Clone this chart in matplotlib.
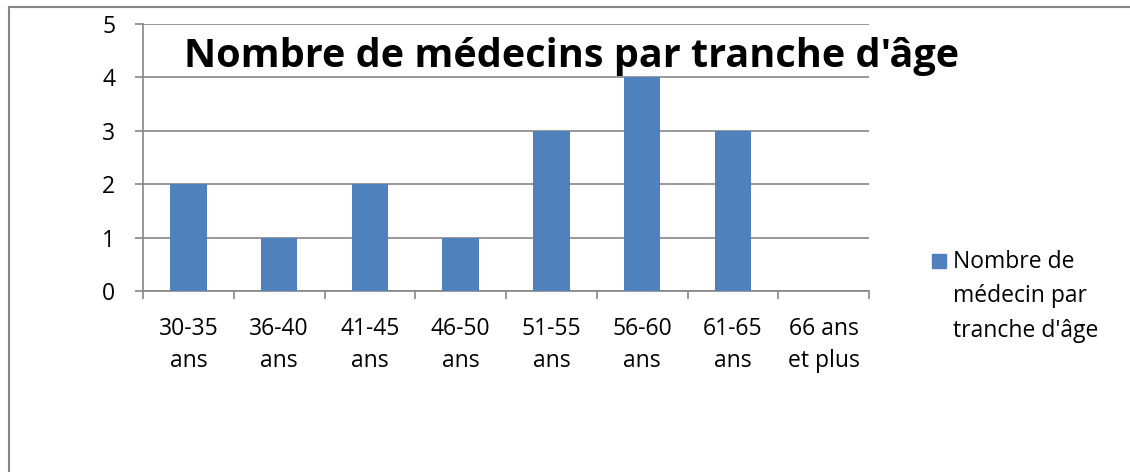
import matplotlib
matplotlib.use("Agg")
import matplotlib.pyplot as plt
from matplotlib.lines import Line2D
from matplotlib.patches import Rectangle

categories = ["30-35\nans", "36-40\nans", "41-45\nans", "46-50\nans",
              "51-55\nans", "56-60\nans", "61-65\nans", "66 ans\net plus"]
values = [2, 1, 2, 1, 3, 4, 3, 0]
yticks = [0, 1, 2, 3, 4, 5]
title = "Nombre de médecins par tranche d'âge"
legend_label = "Nombre de\nmédecin par\ntranche d'âge"

plt.rcParams['font.family'] = ['Open Sans', 'DejaVu Sans']
W, H = 1130, 472
fig = plt.figure(figsize=(W / 100, H / 100), dpi=100)
ax = fig.add_axes([143 / W, 1 - 291 / H, (869 - 143) / W, (291 - 24) / H])

grid_c = "#868686"
bar_c = "#4F81BD"
fs = 16.5
x = list(range(len(categories)))
ax.bar(x, values, width=0.4, color=bar_c, zorder=3, label=legend_label)
ax.set_xlim(-0.5, len(categories) - 0.5)
ax.set_ylim(0, 5)
ax.set_yticks(yticks)
ax.set_yticklabels([str(v) for v in yticks], fontsize=fs)
ax.yaxis.grid(True, color=grid_c, linewidth=1.2, zorder=0)
ax.set_axisbelow(True)
ax.tick_params(axis='y', length=6, width=1.2, color=grid_c, pad=14)

# x ticks at category boundaries
ax.set_xticks([i - 0.5 for i in range(len(categories) + 1)])
ax.set_xticklabels([])
ax.tick_params(axis='x', length=6, width=1.2, color=grid_c)
ax.set_xticks(x, minor=True)
ax.set_xticklabels(categories, minor=True, fontsize=fs, linespacing=1.48)
ax.tick_params(axis='x', which='minor', length=0, pad=18.5)

for s in ['top', 'right']:
    ax.spines[s].set_visible(False)
for s in ['left', 'bottom']:
    ax.spines[s].set_color(grid_c)
    ax.spines[s].set_linewidth(1.2)

fig.text(572 / W, 1 - 56 / H, title, fontsize=28.5, fontweight='bold',
         ha='center', va='center')

# legend (drawn as a key square and its text)
fig.add_artist(Rectangle((932 / W, 1 - 268 / H), 14 / W, 14 / H,
                         transform=fig.transFigure, color=bar_c))
fig.text(953 / W, 1 - 250 / H, legend_label, fontsize=fs, ha='left', va='top',
         linespacing=1.58)

# outer frame (top and left visible)
fig.add_artist(Line2D([8.5 / W, 8.5 / W], [0, 1 - 6.5 / H], transform=fig.transFigure,
                      color=grid_c, linewidth=1.5))
fig.add_artist(Line2D([8.5 / W, 1], [1 - 6.5 / H, 1 - 6.5 / H], transform=fig.transFigure,
                      color=grid_c, linewidth=1.5))

fig.savefig("out.png", dpi=100)
